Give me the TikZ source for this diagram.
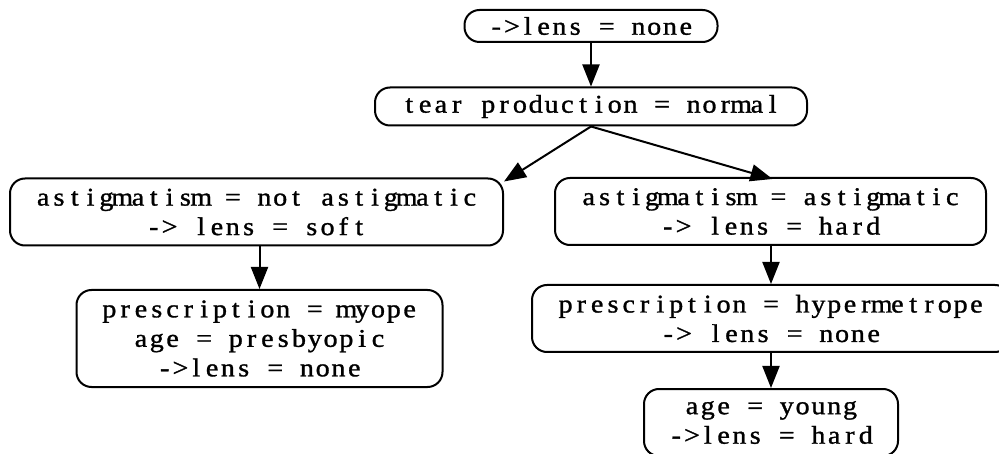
\documentclass[tikz,border=0pt]{standalone}
\usepackage{fontspec}
\newfontfamily\dotfont[FakeBold=1.2,FakeStretch=1.1]{Liberation Serif}
\usetikzlibrary{arrows.meta}
\newlength\cellw
\setlength\cellw{15.8pt}
% set every character of a line in a cell of fixed width
\ExplSyntaxOn
\NewDocumentCommand\cells{m}{\str_map_inline:nn {#1} {\makebox[\cellw][c]{##1}}}
\ExplSyntaxOff
\begin{document}
\begin{tikzpicture}[x=1pt,y=-1pt,
  box/.style={draw,line width=2pt,rounded corners=15pt,inner sep=0pt,align=center,
    font=\dotfont\fontsize{25.5}{29.5}\selectfont},
  edge/.style={line width=2pt,-{Triangle[length=22pt,width=17pt]}}]
\useasboundingbox (0,0) rectangle (999,454);
% rule nodes
\node[box,minimum width=253pt,minimum height=32pt] (n1) at (591,26) {\cells{->lens = none}};
\node[box,minimum width=432pt,minimum height=38pt] (n2) at (591,106.5) {\cells{tear production = normal}};
\node[box,minimum width=493pt,minimum height=67pt] (n3) at (256.5,212) {\cells{astigmatism = not astigmatic}\\\cells{-> lens = soft}};
\node[box,minimum width=431pt,minimum height=67pt] (n4) at (770.5,211.5) {\cells{astigmatism = astigmatic}\\\cells{-> lens = hard}};
\node[box,minimum width=366pt,minimum height=97pt] (n5) at (259.5,338.5) {\cells{prescription = myope}\\\cells{age = presbyopic}\\\cells{->lens = none}};
\node[box,minimum width=478pt,minimum height=67pt] (n6) at (771,318.5) {\cells{prescription = hypermetrope}\\\cells{-> lens = none}};
\node[box,minimum width=254pt,minimum height=67pt] (n7) at (771,422.5) {\cells{age = young}\\\cells{->lens = hard}};
% connectors
\draw[edge] (n1.south) -- (n2.north);
\draw[edge] (n2.south) -- ([shift={(0,4)}]n3.north east);
\draw[edge] (n2.south) -- ([shift={(2,2)}]n4.north);
\draw[edge] (n5.north |- n3.south) -- (n5.north);
\draw[edge] (n6.north |- n4.south) -- (n6.north);
\draw[edge] (n6.south) -- (n7.north);
\end{tikzpicture}
\end{document}
